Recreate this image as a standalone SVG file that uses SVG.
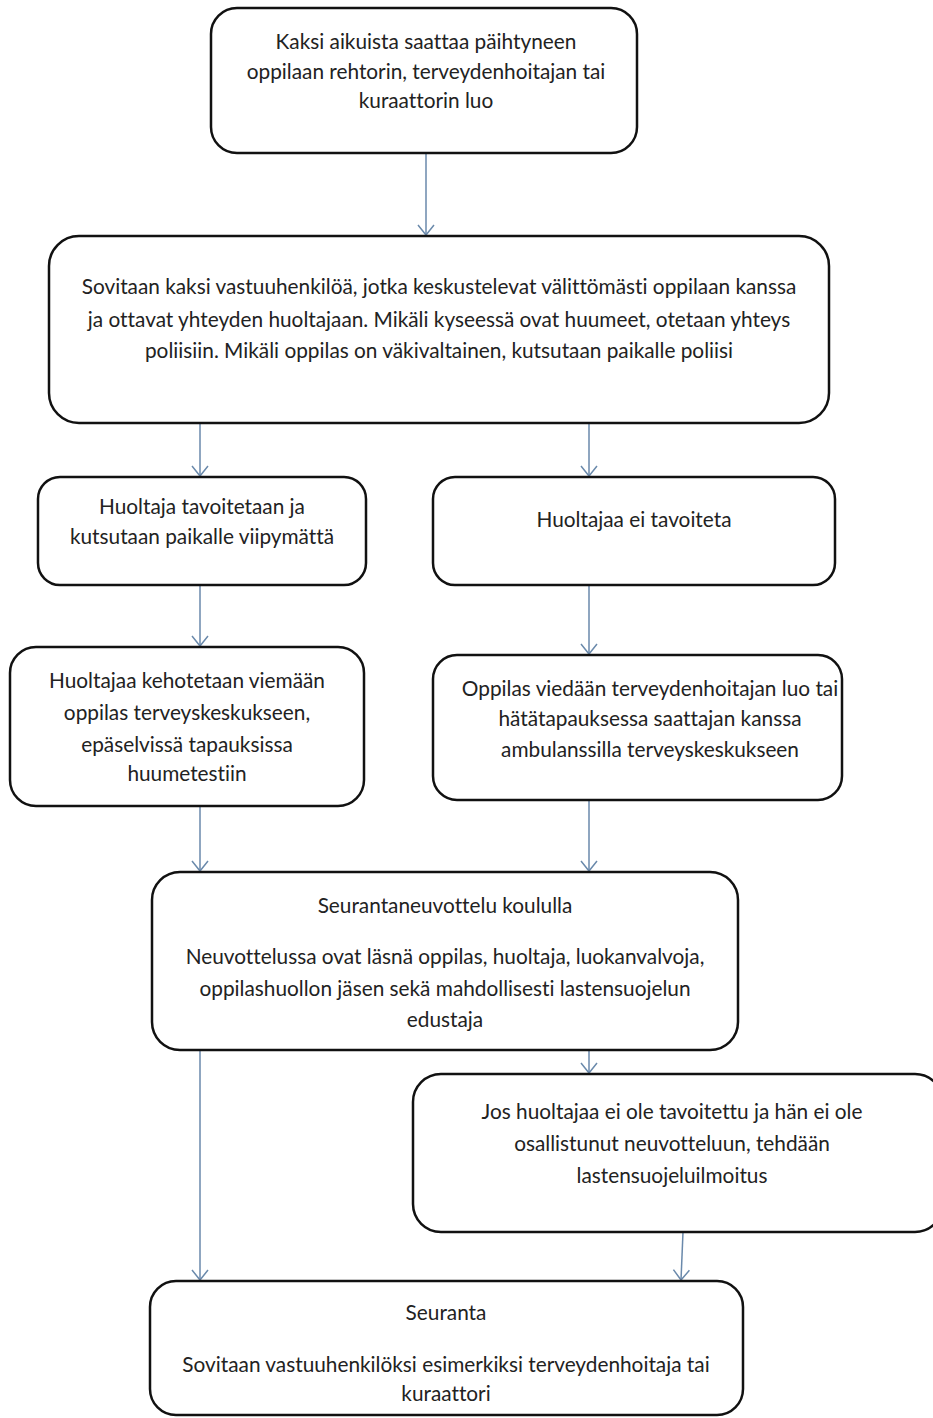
<svg xmlns="http://www.w3.org/2000/svg" width="933" height="1418" viewBox="0 0 933 1418">
<style>
.box{fill:#fff;stroke:#111;stroke-width:2.5}
.t{font-family:Lato,"Liberation Sans",sans-serif;font-size:20.8px;fill:#222;text-anchor:middle;font-variant-ligatures:none}
.c{stroke:#6a89ab;stroke-width:1.5;fill:none}
.ah{stroke:#6a89ab;stroke-width:1.5;fill:none}
</style>
<defs>
<marker id="a" markerWidth="20" markerHeight="20" refX="11" refY="9" orient="auto" markerUnits="userSpaceOnUse">
<path class="ah" d="M1,1 L11,9 L1,17"/>
</marker>
</defs>
<rect width="933" height="1418" fill="#fff"/>
<g id="connectors">
<line class="c" x1="426" y1="153" x2="426" y2="235" marker-end="url(#a)"/>
<line class="c" x1="200" y1="423" x2="200" y2="476" marker-end="url(#a)"/>
<line class="c" x1="589" y1="423" x2="589" y2="476" marker-end="url(#a)"/>
<line class="c" x1="200" y1="585" x2="200" y2="646" marker-end="url(#a)"/>
<line class="c" x1="589" y1="585" x2="589" y2="654" marker-end="url(#a)"/>
<line class="c" x1="200" y1="806" x2="200" y2="871" marker-end="url(#a)"/>
<line class="c" x1="589" y1="800" x2="589" y2="871" marker-end="url(#a)"/>
<line class="c" x1="589" y1="1050" x2="589" y2="1073" marker-end="url(#a)"/>
<line class="c" x1="200" y1="1050" x2="200" y2="1280" marker-end="url(#a)"/>
<line class="c" x1="683" y1="1232" x2="681" y2="1280" marker-end="url(#a)"/>
</g>
<g id="n1">
<rect class="box" x="211" y="8" width="426" height="145" rx="26"/>
<text class="t" x="426" y="49">Kaksi aikuista saattaa päihtyneen</text>
<text class="t" x="426" y="79">oppilaan rehtorin, terveydenhoitajan tai</text>
<text class="t" x="426" y="108">kuraattorin luo</text>
</g>
<g id="n2">
<rect class="box" x="49" y="236" width="780" height="187" rx="30"/>
<text class="t" x="439" y="294">Sovitaan kaksi vastuuhenkilöä, jotka keskustelevat välittömästi oppilaan kanssa</text>
<text class="t" x="439" y="327">ja ottavat yhteyden huoltajaan. Mikäli kyseessä ovat huumeet, otetaan yhteys</text>
<text class="t" x="439" y="358">poliisiin. Mikäli oppilas on väkivaltainen, kutsutaan paikalle poliisi</text>
</g>
<g id="n3">
<rect class="box" x="38" y="477" width="328" height="108" rx="22"/>
<text class="t" x="202" y="514">Huoltaja tavoitetaan ja</text>
<text class="t" x="202" y="544">kutsutaan paikalle viipymättä</text>
</g>
<g id="n4">
<rect class="box" x="433" y="477" width="402" height="108" rx="22"/>
<text class="t" x="634" y="527">Huoltajaa ei tavoiteta</text>
</g>
<g id="n5">
<rect class="box" x="10" y="647" width="354" height="159" rx="26"/>
<text class="t" x="187" y="688">Huoltajaa kehotetaan viemään</text>
<text class="t" x="187" y="720">oppilas terveyskeskukseen,</text>
<text class="t" x="187" y="752">epäselvissä tapauksissa</text>
<text class="t" x="187" y="781">huumetestiin</text>
</g>
<g id="n6">
<rect class="box" x="433" y="655" width="409" height="145" rx="24"/>
<text class="t" x="650" y="696">Oppilas viedään terveydenhoitajan luo tai</text>
<text class="t" x="650" y="726">hätätapauksessa saattajan kanssa</text>
<text class="t" x="650" y="757">ambulanssilla terveyskeskukseen</text>
</g>
<g id="n7">
<rect class="box" x="152" y="872" width="586" height="178" rx="28"/>
<text class="t" x="445" y="913">Seurantaneuvottelu koululla</text>
<text class="t" x="445" y="964">Neuvottelussa ovat läsnä oppilas, huoltaja, luokanvalvoja,</text>
<text class="t" x="445" y="996">oppilashuollon jäsen sekä mahdollisesti lastensuojelun</text>
<text class="t" x="445" y="1027">edustaja</text>
</g>
<g id="n8">
<rect class="box" x="413" y="1074" width="530" height="158" rx="28"/>
<text class="t" x="672" y="1119">Jos huoltajaa ei ole tavoitettu ja hän ei ole</text>
<text class="t" x="672" y="1151">osallistunut neuvotteluun, tehdään</text>
<text class="t" x="672" y="1183">lastensuojeluilmoitus</text>
</g>
<g id="n9">
<rect class="box" x="150" y="1281" width="593" height="134" rx="26"/>
<text class="t" x="446" y="1320">Seuranta</text>
<text class="t" x="446" y="1372">Sovitaan vastuuhenkilöksi esimerkiksi terveydenhoitaja tai</text>
<text class="t" x="446" y="1401">kuraattori</text>
</g>
</svg>
